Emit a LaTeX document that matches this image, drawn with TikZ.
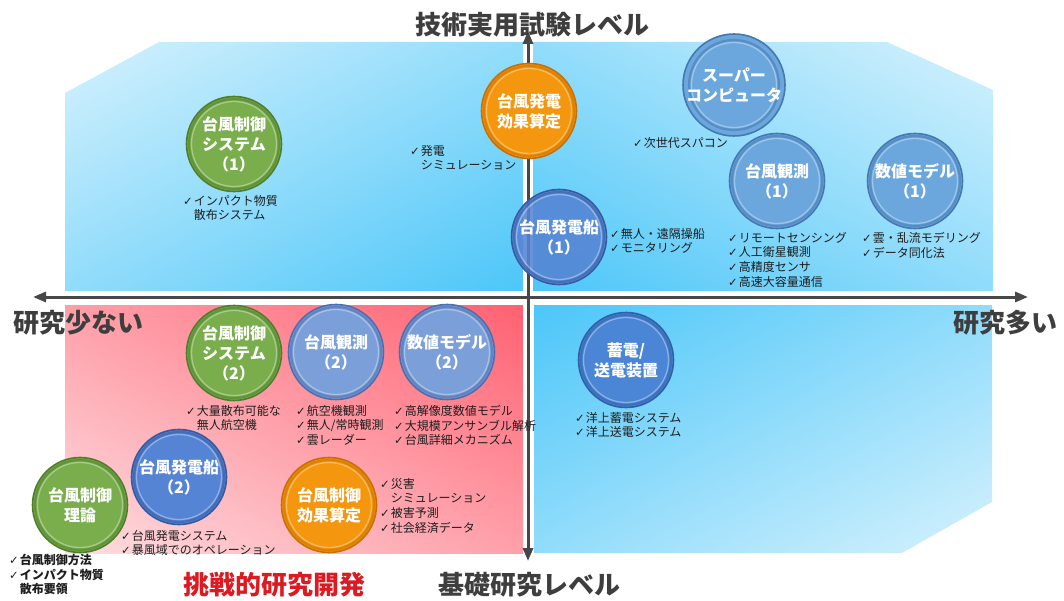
\documentclass[tikz,border=0pt]{standalone}
\usepackage{fontspec}
\setmainfont{Noto Sans CJK JP}
\newfontfamily\dvfont{DejaVu Sans}
\usetikzlibrary{arrows.meta}
\definecolor{bluelight}{HTML}{EAF8FE}
\definecolor{bluedark}{HTML}{3EC2F8}
\definecolor{reddark}{HTML}{FF5466}
\definecolor{redlight}{HTML}{FEF0F1}
\definecolor{axisgray}{HTML}{474747}
\definecolor{labgray}{HTML}{3E3E3E}
\definecolor{labred}{HTML}{DD1A22}
\definecolor{listtext}{HTML}{1E1E1E}
\definecolor{gfill}{HTML}{7AAE4C}
\definecolor{grim}{HTML}{4E7E2C}
\definecolor{ofill}{HTML}{F5970E}
\definecolor{orim}{HTML}{C96F00}
\definecolor{lbfill}{HTML}{6BA7DD}
\definecolor{lbrim}{HTML}{4578B0}
\definecolor{lvfill}{HTML}{7B9FD8}
\definecolor{lvrim}{HTML}{4D6EAE}
\definecolor{dbfill}{HTML}{5584D4}
\definecolor{dbrim}{HTML}{36599F}
\definecolor{sbfill}{HTML}{4B86D6}
\definecolor{sbrim}{HTML}{2F5FA6}
\pgfdeclareverticalshading{shblue}{100bp}{color(0bp)=(bluedark); color(22bp)=(bluedark); color(80bp)=(bluelight); color(100bp)=(bluelight)}
\pgfdeclareverticalshading{shred}{100bp}{color(0bp)=(reddark); color(22bp)=(reddark); color(80bp)=(redlight); color(100bp)=(redlight)}
\newcommand{\ck}{{\dvfont\fontsize{11.5}{12}\selectfont ✓}\kern1pt}
\newcommand{\ckind}{\hphantom{\ck}}
\begin{document}
\begin{tikzpicture}[x=1pt,y=-1pt,
  ball/.style 2 args={circle, minimum size=95pt, inner sep=0pt, align=center,
    text=white, font=\bfseries\fontsize{16}{20}\selectfont,
    fill=#1, draw=#2, line width=1.6pt,
    path picture={
      \draw[#2, opacity=.55, line width=2.2pt] (path picture bounding box.center) circle (45pt);
      \draw[white, opacity=.35, line width=1.3pt] (path picture bounding box.center) circle (42.5pt);
    }},
  listnode/.style={anchor=north west, inner sep=0pt, align=left, text=listtext,
    font=\fontsize{12}{14.6}\selectfont},
  biglab/.style={inner sep=0pt, text=labgray, font=\bfseries\fontsize{26}{30}\selectfont},
  axisline/.style={draw=axisgray, line width=3pt,
    {Triangle[length=13pt,width=10pt]}-{Triangle[length=13pt,width=10pt]}},
  axisglow/.style={draw=white, line width=7pt, opacity=.85}
]
\useasboundingbox (0,0) rectangle (1064,601);

% regions (square shading boxes clipped to each region)
\begin{scope}
  \clip (65,93) -- (159,42) -- (523,42) -- (523,291) -- (65,291) -- cycle;
  \shade[shading=shblue, shading angle=28] (59,-68.5) rectangle (529,401.5);
\end{scope}
\begin{scope}
  \clip (533,42) -- (887,42) -- (993,90) -- (993,291) -- (533,291) -- cycle;
  \shade[shading=shblue, shading angle=-28] (528,-68.5) rectangle (998,401.5);
\end{scope}
\begin{scope}
  \clip (534,305) -- (992,305) -- (992,502) -- (902,553) -- (534,553) -- cycle;
  \shade[shading=shblue, shading angle=-152] (528,194) rectangle (998,664);
\end{scope}
\begin{scope}
  \clip (65,305) -- (523,305) -- (523,553) -- (65,553) -- cycle;
  \shade[shading=shred, shading angle=152] (59,194) rectangle (529,664);
\end{scope}

% axes
\coordinate (vt) at (528,31);
\coordinate (vb) at (528,561);
\coordinate (hl) at (33,297);
\coordinate (hr) at (1028,297);
\draw[axisglow] (vb) -- (vt);
\draw[axisglow] (hl) -- (hr);
\draw[axisline] (hl) -- (hr);
\draw[axisline] (vb) -- (vt);

% axis labels
\node[biglab] (ltop) at (532,25) {技術実用試験レベル};
\node[biglab] (lleft) at (78,323) {研究少ない};
\node[biglab] (lright) at (1005,323) {研究多い};
\node[biglab] (lbottom) at (529,585) {基礎研究レベル};
\node[biglab, text=labred] (lred) at (274,585) {挑戦的研究開発};

% circles, upper half
\node[ball={gfill}{grim}] (c1) at (234,144) {台風制御\\システム\\（1）};
\node[ball={ofill}{orim}] (c2) at (529,111) {台風発電\\効果算定};
\node[ball={dbfill}{dbrim}, fill opacity=.88, text opacity=1] (c3) at (559,237) {台風発電船\\（1）};
\node[ball={lbfill}{lbrim}] (c4) at (734,85) {スーパー\\コンピュータ};
\node[ball={lbfill}{lbrim}] (c5) at (777,181) {台風観測\\（1）};
\node[ball={lbfill}{lbrim}] (c6) at (915,181) {数値モデル\\（1）};

% circles, lower half
\node[ball={gfill}{grim}] (c7) at (234,353) {台風制御\\システム\\（2）};
\node[ball={lvfill}{lvrim}] (c8) at (336,352) {台風観測\\（2）};
\node[ball={lvfill}{lvrim}] (c9) at (447,352) {数値モデル\\（2）};
\node[ball={sbfill}{sbrim}] (c10) at (626,360) {蓄電/\\送電装置};
\node[ball={dbfill}{dbrim}] (c11) at (179,477) {台風発電船\\（2）};
\node[ball={gfill}{grim}] (c12) at (80,505) {台風制御\\理論};
\node[ball={ofill}{orim}] (c13) at (329,505) {台風制御\\効果算定};

% lists
\node[listnode] (t1) at (183,195) {\ck インパクト物質\\\ckind 散布システム};
\node[listnode] (t2) at (410,145) {\ck 発電\\\ckind シミュレーション};
\node[listnode] (t3) at (633,137) {\ck 次世代スパコン};
\node[listnode] (t4) at (610,228) {\ck 無人・遠隔操船\\\ck モニタリング};
\node[listnode] (t5) at (728,232) {\ck リモートセンシング\\\ck 人工衛星観測\\\ck 高精度センサ\\\ck 高速大容量通信};
\node[listnode] (t6) at (862,232) {\ck 雲・乱流モデリング\\\ck データ同化法};
\node[listnode] (t7) at (186,405) {\ck 大量散布可能な\\\ckind 無人航空機};
\node[listnode] (t8) at (296,405) {\ck 航空機観測\\\ck 無人/常時観測\\\ck 雲レーダー};
\node[listnode] (t9) at (394,405) {\ck 高解像度数値モデル\\\ck 大規模アンサンブル解析\\\ck 台風詳細メカニズム};
\node[listnode] (t10) at (575,412) {\ck 洋上蓄電システム\\\ck 洋上送電システム};
\node[listnode] (t11) at (121,530) {\ck 台風発電システム\\\ck 暴風域でのオペレーション};
\node[listnode, font=\bfseries\fontsize{12}{14.6}\selectfont] (t12) at (9,554) {\ck 台風制御方法\\\ck インパクト物質\\\ckind 散布要領};
\node[listnode] (t13) at (380,478) {\ck 災害\\\ckind シミュレーション\\\ck 被害予測\\\ck 社会経済データ};
\end{tikzpicture}
\end{document}
